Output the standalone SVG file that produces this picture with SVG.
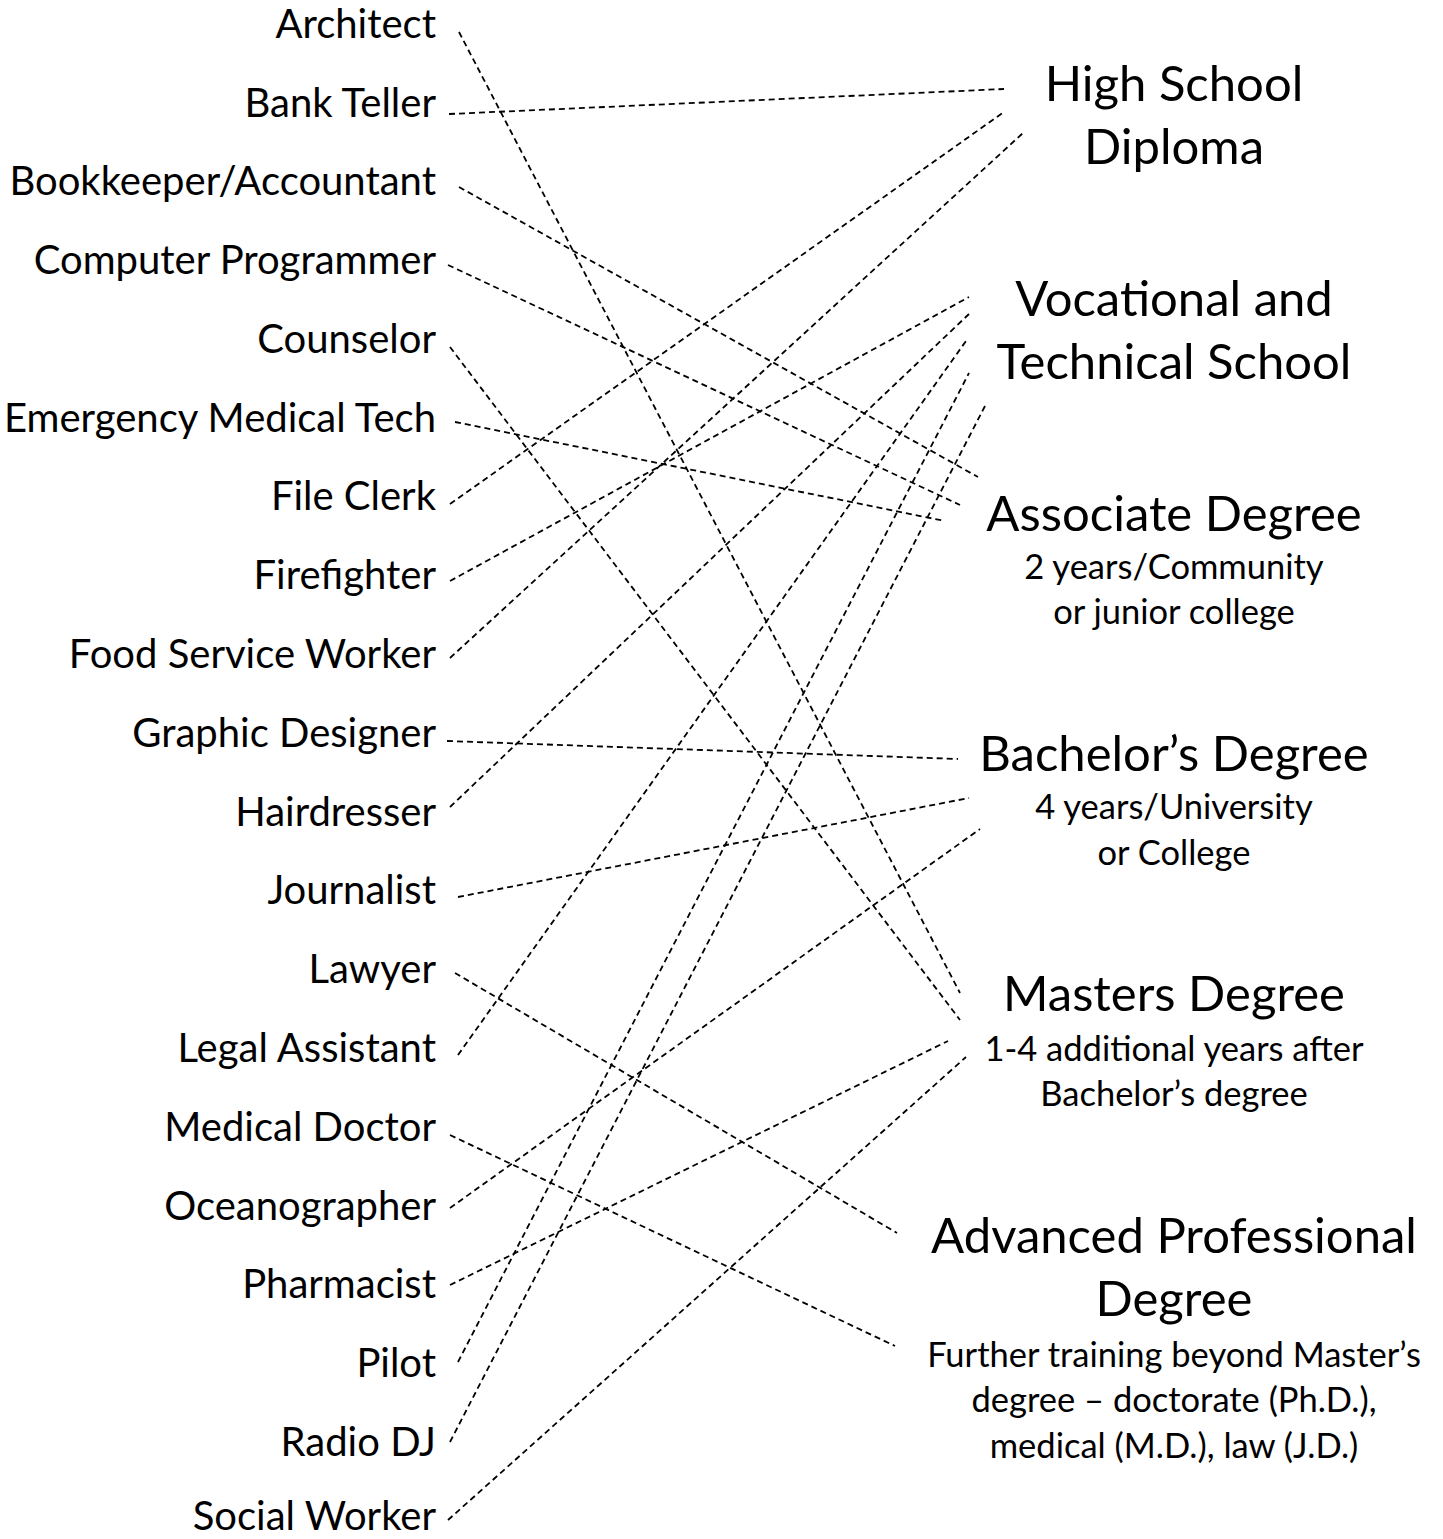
<svg xmlns="http://www.w3.org/2000/svg" width="1443" height="1539" viewBox="0 0 1443 1539">
<style>
.bg{fill:#fff}
.job{font-family:Lato,"Liberation Sans",sans-serif;font-size:40px;fill:#000;text-anchor:end}
.lvl{font-family:Lato,"Liberation Sans",sans-serif;font-size:49px;fill:#000;text-anchor:middle}
.sub{font-family:Lato,"Liberation Sans",sans-serif;font-size:34.5px;fill:#000;text-anchor:middle}
.c line{stroke:#000;stroke-width:1.8;stroke-dasharray:6 4;fill:none}
</style>
<rect class="bg" x="0" y="0" width="1443" height="1539"/>
<g id="jobs">
<g id="job-architect"><text class="job" x="436" y="38">Architect</text></g>
<g id="job-bank-teller"><text class="job" x="436" y="117">Bank Teller</text></g>
<g id="job-bookkeeper"><text class="job" x="436" y="195">Bookkeeper/Accountant</text></g>
<g id="job-programmer"><text class="job" x="436" y="274">Computer Programmer</text></g>
<g id="job-counselor"><text class="job" x="436" y="353">Counselor</text></g>
<g id="job-emt"><text class="job" x="436" y="432">Emergency Medical Tech</text></g>
<g id="job-file-clerk"><text class="job" x="436" y="510">File Clerk</text></g>
<g id="job-firefighter"><text class="job" x="436" y="589">Firefighter</text></g>
<g id="job-food-service"><text class="job" x="436" y="668">Food Service Worker</text></g>
<g id="job-graphic-designer"><text class="job" x="436" y="747">Graphic Designer</text></g>
<g id="job-hairdresser"><text class="job" x="436" y="826">Hairdresser</text></g>
<g id="job-journalist"><text class="job" x="436" y="904">Journalist</text></g>
<g id="job-lawyer"><text class="job" x="436" y="983">Lawyer</text></g>
<g id="job-legal-assistant"><text class="job" x="436" y="1062">Legal Assistant</text></g>
<g id="job-medical-doctor"><text class="job" x="436" y="1141">Medical Doctor</text></g>
<g id="job-oceanographer"><text class="job" x="436" y="1220">Oceanographer</text></g>
<g id="job-pharmacist"><text class="job" x="436" y="1298">Pharmacist</text></g>
<g id="job-pilot"><text class="job" x="436" y="1377">Pilot</text></g>
<g id="job-radio-dj"><text class="job" x="436" y="1456">Radio DJ</text></g>
<g id="job-social-worker"><text class="job" x="436" y="1530">Social Worker</text></g>
</g>
<g id="levels">
<g id="lvl-high-school"><text class="lvl" x="1174" y="101">High School</text><text class="lvl" x="1174" y="164">Diploma</text></g>
<g id="lvl-vocational"><text class="lvl" x="1174" y="316">Vocational and</text><text class="lvl" x="1174" y="379">Technical School</text></g>
<g id="lvl-associate"><text class="lvl" x="1174" y="531">Associate Degree</text><text class="sub" x="1174" y="579">2 years/Community</text><text class="sub" x="1174" y="624">or junior college</text></g>
<g id="lvl-bachelor"><text class="lvl" x="1174" y="771">Bachelor’s Degree</text><text class="sub" x="1174" y="819">4 years/University</text><text class="sub" x="1174" y="865">or College</text></g>
<g id="lvl-masters"><text class="lvl" x="1174" y="1011">Masters Degree</text><text class="sub" x="1174" y="1061">1-4 additional years after</text><text class="sub" x="1174" y="1106">Bachelor’s degree</text></g>
<g id="lvl-advanced"><text class="lvl" x="1174" y="1253">Advanced Professional</text><text class="lvl" x="1174" y="1316">Degree</text><text class="sub" x="1174" y="1367">Further training beyond Master’s</text><text class="sub" x="1174" y="1412">degree – doctorate (Ph.D.),</text><text class="sub" x="1174" y="1458">medical (M.D.), law (J.D.)</text></g>
</g>
<g id="connectors" class="c">
<line x1="459" y1="32" x2="960" y2="993"/>
<line x1="449" y1="114" x2="1004" y2="89"/>
<line x1="459" y1="187" x2="978" y2="477"/>
<line x1="448" y1="265" x2="960" y2="505"/>
<line x1="450" y1="347" x2="960" y2="1020"/>
<line x1="455" y1="422" x2="945" y2="521"/>
<line x1="450" y1="504" x2="1004" y2="112"/>
<line x1="450" y1="581" x2="969" y2="297"/>
<line x1="450" y1="658" x2="1023" y2="133"/>
<line x1="447" y1="741" x2="958" y2="759"/>
<line x1="450" y1="807" x2="969" y2="314"/>
<line x1="458" y1="897" x2="969" y2="798"/>
<line x1="455" y1="973" x2="897" y2="1233"/>
<line x1="458" y1="1055" x2="966" y2="341"/>
<line x1="450" y1="1135" x2="895" y2="1346"/>
<line x1="450" y1="1208" x2="980" y2="829"/>
<line x1="450" y1="1285" x2="948" y2="1041"/>
<line x1="458" y1="1362" x2="969" y2="373"/>
<line x1="450" y1="1442" x2="985" y2="406"/>
<line x1="448" y1="1520" x2="966" y2="1057"/>
</g>
</svg>
